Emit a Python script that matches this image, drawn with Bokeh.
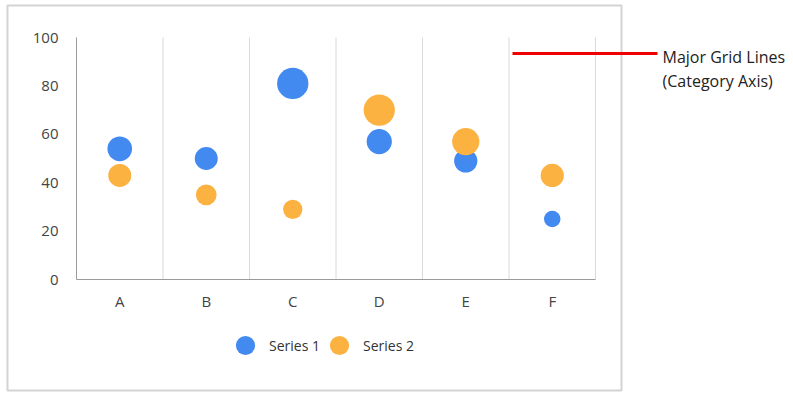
import numpy as np
from bokeh.plotting import figure
from bokeh.models import (Range1d, Legend, LegendItem, Label, LinearAxis,
                          BoxAnnotation, Arrow, ColumnDataSource, FixedTicker)
from bokeh.embed import file_html
from bokeh.resources import INLINE

# ---- data ----
categories = ["A", "B", "C", "D", "E", "F"]
series1_values = [54, 50, 81, 57, 49, 25]
series2_values = [43, 35, 29, 70, 57, 43]
series1_sizes = [62, 54, 100, 65, 55, 28]
series2_sizes = [54, 44, 38, 100, 76, 55]
y_ticks = [0, 20, 40, 60, 80, 100]
series_names = ["Series 1", "Series 2"]
annotation_lines = ["Major Grid Lines", "(Category Axis)"]

# ---- layout / style ----
W, H = 793, 395
PLOT_L, PLOT_R, PLOT_T, PLOT_B = 76, 595, 37, 279
Y_MIN, Y_MAX = 0, 100
BLUE = "#4289F0"
ORANGE = "#FCB241"
FONT = "Open Sans"
MAX_D = 31.3
LEGEND_X = [221, 315]

n = len(categories)
ppx = (PLOT_R - PLOT_L) / n
ppy = (PLOT_B - PLOT_T) / (Y_MAX - Y_MIN)
x_range = Range1d(-PLOT_L / ppx, n + (W - PLOT_R) / ppx)
y_range = Range1d(Y_MIN - (H - PLOT_B) / ppy, Y_MAX + PLOT_T / ppy)

cat_pos = [i + 0.5 for i in range(n)]
zmax = max(series1_sizes + series2_sizes)


def diam(z):
    return [MAX_D * np.sqrt(v / zmax) for v in z]


p = figure(width=W, height=H, x_range=x_range, y_range=y_range,
           min_border=0, x_axis_type=None, y_axis_type=None,
           output_backend="svg", toolbar_location=None)
p.outline_line_color = None
p.xgrid.visible = False
p.ygrid.visible = False

# outer chart box
p.add_layout(BoxAnnotation(left=7, right=621, top=5, bottom=390,
                           left_units="canvas", right_units="canvas",
                           top_units="canvas", bottom_units="canvas",
                           fill_color=None, line_color="#d3d3d3", line_alpha=1.0,
                           line_width=2))

# vertical category grid lines (at category boundaries)
bounds_x = list(range(1, n + 1))
p.segment(x0=bounds_x, y0=[Y_MIN] * n, x1=bounds_x, y1=[Y_MAX] * n,
          line_color="#dadada", line_width=1)

yaxis = LinearAxis(fixed_location=0, bounds=(Y_MIN, Y_MAX), ticker=FixedTicker(ticks=y_ticks))
xaxis = LinearAxis(fixed_location=Y_MIN, bounds=(0, n), ticker=FixedTicker(ticks=cat_pos),
                   major_label_overrides={pos: c for pos, c in zip(cat_pos, categories)})
for ax in (xaxis, yaxis):
    ax.axis_line_color = "#9a9a9a"
    ax.major_tick_line_color = None
    ax.minor_tick_line_color = None
    ax.major_tick_out = 0
    ax.major_tick_in = 0
    ax.major_label_text_font = FONT
    ax.major_label_text_font_size = "15px"
    ax.major_label_text_color = "#444444"
yaxis.major_label_standoff = 18
xaxis.major_label_standoff = 11
p.add_layout(yaxis, "left")
p.add_layout(xaxis, "below")

s1 = ColumnDataSource(dict(x=cat_pos, y=series1_values, d=diam(series1_sizes)))
s2 = ColumnDataSource(dict(x=cat_pos, y=series2_values, d=diam(series2_sizes)))
r1 = p.scatter("x", "y", size="d", source=s1, fill_color=BLUE, line_color=None)
r2 = p.scatter("x", "y", size="d", source=s2, fill_color=ORANGE, line_color=None)

for name, rend, lx in zip(series_names, [r1, r2], LEGEND_X):
    lg = Legend(items=[LegendItem(label=name, renderers=[rend])],
                orientation="horizontal", location=(lx, 26),
                glyph_width=48, glyph_height=48, label_standoff=0, spacing=0,
                label_text_font=FONT, label_text_font_size="14px", label_text_color="#333333",
                border_line_color=None, background_fill_alpha=0, padding=0, margin=0)
    p.add_layout(lg, "center")

# annotation
p.add_layout(Arrow(end=None, x_start=512, y_start=53, x_end=657, y_end=53,
                   start_units="canvas", end_units="canvas",
                   line_color="#f00000", line_width=3))
p.add_layout(Label(x=662, y=56, x_units="canvas", y_units="canvas", text=annotation_lines[0],
                   text_font=FONT, text_font_size="16px", text_color="#222222",
                   text_baseline="alphabetic"))
p.add_layout(Label(x=662, y=80, x_units="canvas", y_units="canvas", text=annotation_lines[1],
                   text_font=FONT, text_font_size="16px", text_color="#222222",
                   text_baseline="alphabetic"))

open("out.html", "w").write(file_html(p, INLINE))
